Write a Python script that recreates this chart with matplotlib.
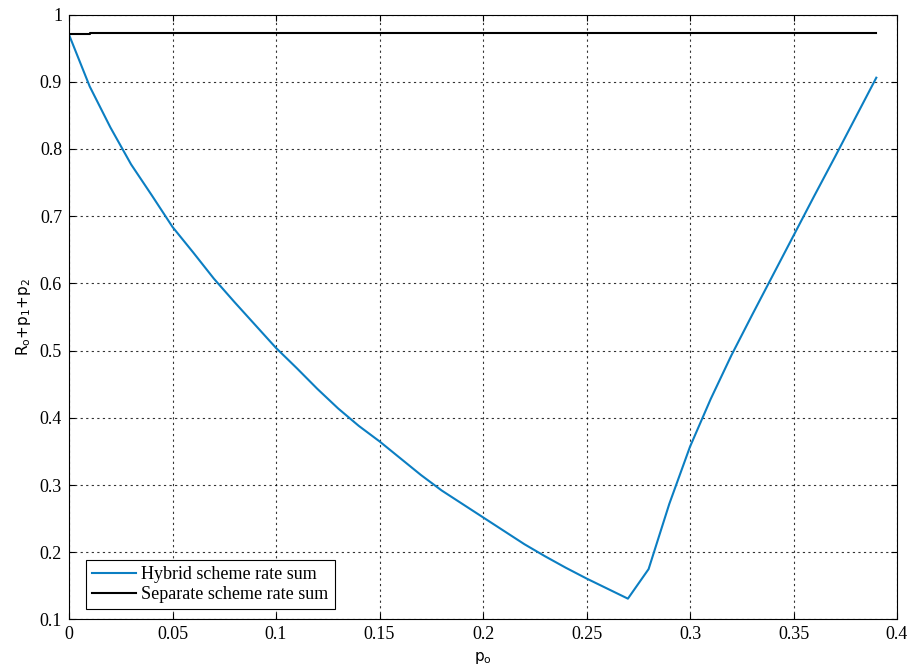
import matplotlib
matplotlib.use("Agg")
import matplotlib.pyplot as plt

plt.rcParams["mathtext.fontset"] = "custom"
plt.rcParams["mathtext.rm"] = "Liberation Sans"
plt.rcParams["mathtext.it"] = "Liberation Sans"

p = [0.00, 0.01, 0.02, 0.03, 0.04, 0.05, 0.06, 0.07, 0.08, 0.09,
     0.10, 0.11, 0.12, 0.13, 0.14, 0.15, 0.16, 0.17, 0.18, 0.19,
     0.20, 0.21, 0.22, 0.23, 0.24, 0.25, 0.26, 0.27, 0.28, 0.29,
     0.30, 0.31, 0.32, 0.33, 0.34, 0.35, 0.36, 0.37, 0.38, 0.39]
hybrid = [0.970, 0.893, 0.832, 0.777, 0.731, 0.684, 0.646, 0.607, 0.572, 0.538,
          0.504, 0.474, 0.443, 0.414, 0.388, 0.365, 0.340, 0.315, 0.292, 0.272,
          0.252, 0.232, 0.212, 0.194, 0.177, 0.161, 0.146, 0.131, 0.175, 0.272,
          0.357, 0.428, 0.493, 0.553, 0.612, 0.671, 0.730, 0.788, 0.847, 0.906]
separate = [0.9705] + [0.9725] * 39

xticks = [0, 0.05, 0.1, 0.15, 0.2, 0.25, 0.3, 0.35, 0.4]
xticklabels = ["0", "0.05", "0.1", "0.15", "0.2", "0.25", "0.3", "0.35", "0.4"]
yticks = [0.1, 0.2, 0.3, 0.4, 0.5, 0.6, 0.7, 0.8, 0.9, 1.0]
yticklabels = ["0.1", "0.2", "0.3", "0.4", "0.5", "0.6", "0.7", "0.8", "0.9", "1"]

fig = plt.figure(figsize=(9.14, 6.69), dpi=100)
ax = fig.add_axes([0.0755, 0.0740, 0.9059, 0.9043])

ax.plot(p, hybrid, color="#0b7ec2", lw=1.5, label="Hybrid scheme rate sum")
ax.plot(p, separate, color="black", lw=1.5, drawstyle="steps-post",
        label="Separate scheme rate sum")

ax.set_xlim(0, 0.4)
ax.set_ylim(0.1, 1.0)
ax.set_xticks(xticks)
ax.set_xticklabels(xticklabels, family="Liberation Serif", fontsize=13)
ax.set_yticks(yticks)
ax.set_yticklabels(yticklabels, family="Liberation Serif", fontsize=13)
ax.tick_params(direction="in", top=True, right=True, length=4, width=0.8, pad=5)
ax.grid(True, color="black", linestyle=(0, (2, 3)), linewidth=0.8, alpha=0.8)
for s in ax.spines.values():
    s.set_linewidth(0.8)

ax.set_xlabel(r"$\mathregular{p_o}$", fontsize=11, labelpad=5)
ax.set_ylabel(r"$\mathregular{R_o{+}p_1{+}p_2}$", fontsize=11, labelpad=5)

leg = ax.legend(loc="lower left", bbox_to_anchor=(0.0205, 0.017), borderaxespad=0,
                prop={"family": "Liberation Serif", "size": 13}, fancybox=False,
                framealpha=1, edgecolor="black", handlelength=2.4, handletextpad=0.3,
                borderpad=0.35, labelspacing=0.15)
leg.get_frame().set_linewidth(0.8)

fig.savefig("out.png", dpi=100)
